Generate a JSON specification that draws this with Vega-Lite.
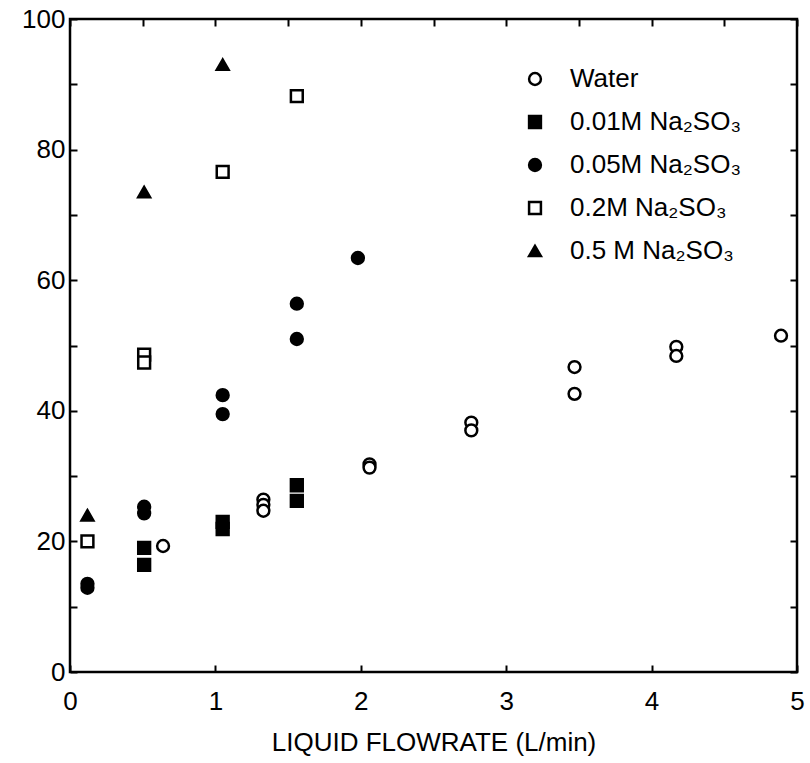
{
  "$schema": "https://vega.github.io/schema/vega-lite/v6.json",
  "width": 727,
  "height": 653,
  "autosize": {"type": "none"},
  "padding": {"left": 70, "top": 19, "right": 13, "bottom": 91},
  "background": "white",
  "config": {
    "font": "Liberation Sans",
    "view": {"stroke": "black", "strokeWidth": 2.5},
    "legend": {
      "title": null,
      "orient": "none",
      "legendX": 452,
      "legendY": 47,
      "labelFontSize": 26,
      "labelColor": "black",
      "labelFont": "Liberation Sans",
      "labelLimit": 0,
      "symbolSize": 140,
      "symbolStrokeWidth": 2.5,
      "rowPadding": 17,
      "labelOffset": 22
    }
  },
  "data": {
    "values": [
      {"x": 0.12, "y": 24.0, "s": "0.5 M Na₂SO₃"},
      {"x": 0.51, "y": 73.5, "s": "0.5 M Na₂SO₃"},
      {"x": 1.05, "y": 93.0, "s": "0.5 M Na₂SO₃"},
      {"x": 0.12, "y": 20.0, "s": "0.2M Na₂SO₃"},
      {"x": 0.51, "y": 48.6, "s": "0.2M Na₂SO₃"},
      {"x": 0.51, "y": 47.4, "s": "0.2M Na₂SO₃"},
      {"x": 1.05, "y": 76.6, "s": "0.2M Na₂SO₃"},
      {"x": 1.56, "y": 88.2, "s": "0.2M Na₂SO₃"},
      {"x": 0.12, "y": 13.5, "s": "0.05M Na₂SO₃"},
      {"x": 0.12, "y": 12.9, "s": "0.05M Na₂SO₃"},
      {"x": 0.51, "y": 25.3, "s": "0.05M Na₂SO₃"},
      {"x": 0.51, "y": 24.3, "s": "0.05M Na₂SO₃"},
      {"x": 1.05, "y": 42.4, "s": "0.05M Na₂SO₃"},
      {"x": 1.05, "y": 39.5, "s": "0.05M Na₂SO₃"},
      {"x": 1.56, "y": 56.4, "s": "0.05M Na₂SO₃"},
      {"x": 1.56, "y": 51.0, "s": "0.05M Na₂SO₃"},
      {"x": 1.98, "y": 63.4, "s": "0.05M Na₂SO₃"},
      {"x": 0.51, "y": 19.0, "s": "0.01M Na₂SO₃"},
      {"x": 0.51, "y": 16.4, "s": "0.01M Na₂SO₃"},
      {"x": 1.05, "y": 23.0, "s": "0.01M Na₂SO₃"},
      {"x": 1.05, "y": 21.9, "s": "0.01M Na₂SO₃"},
      {"x": 1.56, "y": 28.6, "s": "0.01M Na₂SO₃"},
      {"x": 1.56, "y": 26.2, "s": "0.01M Na₂SO₃"},
      {"x": 0.64, "y": 19.3, "s": "Water"},
      {"x": 1.33, "y": 26.4, "s": "Water"},
      {"x": 1.33, "y": 25.6, "s": "Water"},
      {"x": 1.33, "y": 24.7, "s": "Water"},
      {"x": 2.06, "y": 31.8, "s": "Water"},
      {"x": 2.06, "y": 31.3, "s": "Water"},
      {"x": 2.76, "y": 38.2, "s": "Water"},
      {"x": 2.76, "y": 37.0, "s": "Water"},
      {"x": 3.47, "y": 46.7, "s": "Water"},
      {"x": 3.47, "y": 42.6, "s": "Water"},
      {"x": 4.17, "y": 49.8, "s": "Water"},
      {"x": 4.17, "y": 48.4, "s": "Water"},
      {"x": 4.89, "y": 51.5, "s": "Water"}
    ]
  },
  "layer": [
    {
      "mark": {"type": "point", "strokeWidth": 2.5, "size": 140, "opacity": 1},
      "encoding": {
        "x": {
          "field": "x", "type": "quantitative",
          "scale": {"domain": [0, 5], "nice": false},
          "axis": {
            "orient": "bottom",
            "domain": false, "grid": false,
            "values": [0, 0.5, 1, 1.5, 2, 2.5, 3, 3.5, 4, 4.5, 5],
            "format": "d",
            "labelExpr": "datum.value % 1 === 0 ? datum.label : ''",
            "tickColor": "black", "tickWidth": 2, "tickSize": -7,
            "labelColor": "black", "labelFontSize": 26, "labelFont": "Liberation Sans",
            "labelOverlap": false, "labelFlush": false,
            "labelPadding": 23,
            "title": "LIQUID FLOWRATE (L/min)",
            "titleFont": "Liberation Sans", "titleFontSize": 26, "titleFontWeight": "normal", "titleColor": "black",
            "titlePadding": 15
          }
        },
        "y": {
          "field": "y", "type": "quantitative",
          "scale": {"domain": [0, 100], "nice": false},
          "axis": {
            "orient": "left",
            "domain": false, "grid": false,
            "values": [0, 10, 20, 30, 40, 50, 60, 70, 80, 90, 100],
            "labelExpr": "datum.value % 20 === 0 ? datum.label : ''",
            "tickColor": "black", "tickWidth": 2, "tickSize": -7,
            "labelColor": "black", "labelFontSize": 26, "labelFont": "Liberation Sans",
            "labelOverlap": false, "labelFlush": false,
            "labelPadding": 12,
            "title": null
          }
        },
        "shape": {
          "field": "s", "type": "nominal",
          "scale": {
            "domain": ["Water", "0.01M Na₂SO₃", "0.05M Na₂SO₃", "0.2M Na₂SO₃", "0.5 M Na₂SO₃"],
            "range": ["circle", "square", "circle", "square", "triangle-up"]
          },
          "legend": {"title": null}
        },
        "fill": {
          "field": "s", "type": "nominal",
          "scale": {
            "domain": ["Water", "0.01M Na₂SO₃", "0.05M Na₂SO₃", "0.2M Na₂SO₃", "0.5 M Na₂SO₃"],
            "range": ["white", "black", "black", "white", "black"]
          },
          "legend": {"title": null}
        },
        "stroke": {
          "field": "s", "type": "nominal",
          "scale": {
            "domain": ["Water", "0.01M Na₂SO₃", "0.05M Na₂SO₃", "0.2M Na₂SO₃", "0.5 M Na₂SO₃"],
            "range": ["black", "black", "black", "black", "black"]
          },
          "legend": {"title": null}
        }
      }
    },
    {
      "mark": {"type": "point", "opacity": 0},
      "encoding": {
        "x": {
          "field": "x", "type": "quantitative",
          "scale": {"domain": [0, 5], "nice": false},
          "axis": {
            "orient": "top",
            "domain": false, "grid": false,
            "values": [0, 0.5, 1, 1.5, 2, 2.5, 3, 3.5, 4, 4.5, 5],
            "tickColor": "black", "tickWidth": 2, "tickSize": -7,
            "labels": false,
            "title": null
          }
        },
        "y": {
          "field": "y", "type": "quantitative",
          "scale": {"domain": [0, 100], "nice": false},
          "axis": {
            "orient": "right",
            "domain": false, "grid": false,
            "values": [0, 10, 20, 30, 40, 50, 60, 70, 80, 90, 100],
            "tickColor": "black", "tickWidth": 2, "tickSize": -7,
            "labels": false,
            "title": null
          }
        }
      }
    }
  ],
  "resolve": {"axis": {"x": "independent", "y": "independent"}}
}
